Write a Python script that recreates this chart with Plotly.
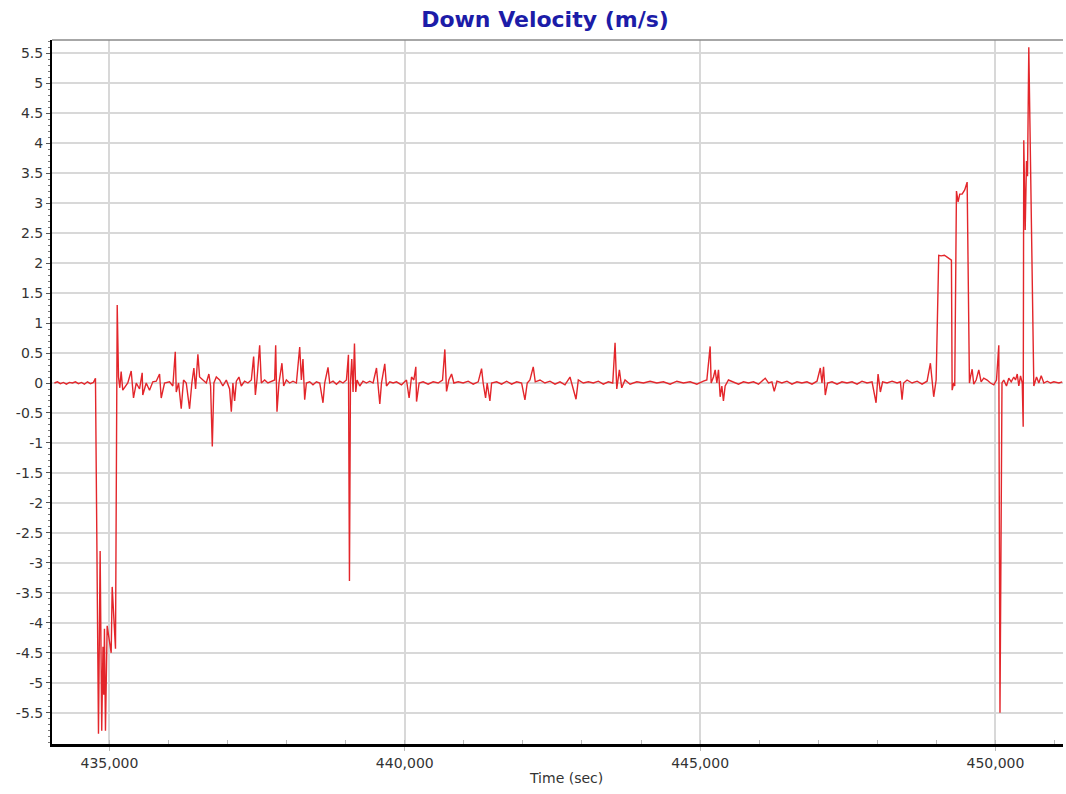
import plotly.graph_objects as go

# ---- data ----
time_s = [
    434068, 434119, 434169, 434220, 434271, 434322, 434373, 434424, 434475, 434525,
    434576, 434627, 434678, 434729, 434763,
    434814, 434842, 434869, 434890, 434903, 434915, 434932, 434961, 434992, 435029,
    435046, 435073, 435102, 435131,
    435153, 435175, 435198, 435225, 435271, 435310, 435368, 435407, 435453, 435509,
    435554, 435564, 435622, 435678, 435734, 435792, 435848, 435876, 435932, 436017,
    436073, 436114, 436131, 436170, 436215, 436254, 436300, 436356, 436395, 436429,
    436458, 436497, 436526, 436581, 436639, 436683, 436712, 436741, 436768, 436809,
    436865, 436920, 436978, 437034, 437063, 437090, 437119, 437148, 437192, 437232,
    437288, 437344, 437402, 437441, 437470, 437497,
    437543, 437571, 437627, 437683, 437741, 437797, 437814, 437836, 437870, 437920,
    437949, 437995, 438051, 438107, 438165, 438221, 438249, 438276, 438305, 438334,
    438390, 438446, 438504, 438560, 438615, 438644, 438700, 438729, 438785, 438843,
    438899, 438954, 439012, 439046, 439063, 439080, 439102, 439124, 439148, 439170,
    439192, 439238, 439293, 439351, 439407, 439463, 439521, 439548, 439577, 439605,
    439661, 439690, 439746, 439802, 439860,
    439944, 440029, 440073, 440114, 440153, 440187, 440199, 440243, 440310, 440395,
    440480, 440565, 440639, 440678, 440707, 440746, 440792, 440831, 440904, 440988,
    441073, 441158, 441243, 441300, 441327, 441368, 441395, 441441, 441470, 441555,
    441639, 441724, 441809, 441894, 441978, 442034, 442073, 442119, 442175, 442209,
    442289, 442373, 442458, 442543, 442628, 442712, 442797, 442843, 442899, 442938,
    443022, 443107, 443192, 443277, 443361, 443446, 443521, 443560, 443589, 443633,
    443673, 443729, 443814, 443928, 444039, 444153, 444267, 444378, 444492, 444606,
    444717, 444831, 444945, 445056, 445114,
    445170, 445187, 445226, 445255, 445284, 445311, 445340, 445368, 445395, 445424,
    445480, 445565, 445650, 445734, 445819, 445904, 445989, 446102, 446158, 446216,
    446255, 446301, 446385, 446470, 446555, 446640, 446724, 446809, 446894, 446979,
    447035, 447063, 447090, 447119, 447158, 447233, 447318, 447402, 447487, 447572,
    447657, 447741, 447826, 447911, 447979, 448013, 448052, 448090, 448165, 448250,
    448335, 448391, 448419, 448446, 448504, 448589, 448674, 448758, 448843, 448899,
    448928, 448955, 448996,
    449040, 449080, 449136, 449182, 449226, 449255, 449267, 449294, 449311, 449340,
    449368, 449396, 449436, 449480, 449521, 449560, 449577, 449606, 449633, 449674,
    449718, 449758, 449802, 449860, 449916, 449972, 450018, 450057, 450077, 450111,
    450141, 450187, 450226, 450267, 450311, 450340, 450369, 450396, 450425, 450454,
    450470, 450480, 450504, 450526, 450543, 450565, 450650, 450696, 450735, 450775,
    450820, 450877, 450933, 450989, 451074, 451131,
]

down_velocity = [
    0.0, 0.02, -0.01, 0.01, -0.02, 0.01, 0.0, 0.02, -0.01, 0.01,
    -0.02, 0.02, -0.01, 0.01, 0.08,
    -5.85, -2.8, -5.8, -4.4, -5.2, -4.1, -5.8, -4.05, -4.3, -4.5,
    -3.4, -3.95, -4.43, 1.3,
    0.1, -0.08, 0.19, -0.12, -0.05, 0.0, 0.2, -0.25, 0.0, -0.1,
    0.17, -0.2, 0.0, -0.12, 0.02, 0.03, 0.15, -0.25, 0.0, 0.02,
    -0.05, 0.52, -0.15, 0.0, -0.43, 0.05, 0.0, -0.43, 0.0, 0.25,
    -0.1, 0.48, 0.1, 0.05, 0.0, 0.15, -0.05, -1.06, 0.0, 0.1,
    0.05, -0.05, 0.05, -0.1, -0.48, 0.0, -0.3, 0.03, 0.1, -0.05,
    0.03, 0.0, 0.05, 0.44, -0.2, 0.05,
    0.63, 0.0, 0.05, 0.0, 0.03, 0.05, 0.63, -0.48, 0.0, 0.33,
    -0.05, 0.05, 0.0, 0.03, 0.0, 0.6, 0.05, 0.4, -0.28, 0.0,
    0.02, -0.03, 0.02, 0.0, -0.33, 0.0, 0.26, 0.0, 0.03, -0.02,
    0.03, 0.0, 0.05, 0.47, -3.3, 0.0, 0.4, -0.15, 0.66, -0.15,
    0.05, -0.05, 0.03, 0.0, 0.03, 0.0, 0.25, 0.0, -0.35, 0.0,
    0.32, -0.05, 0.02, 0.0, 0.02,
    -0.03, 0.05, -0.25, 0.1, 0.05, 0.27, -0.31, 0.0, 0.02, -0.02,
    0.02, 0.0, 0.05, 0.56, -0.14, 0.05, 0.15, 0.0, 0.02, 0.0,
    0.03, -0.02, 0.02, 0.24, 0.0, -0.25, 0.0, -0.3, 0.0, 0.02,
    -0.02, 0.03, -0.02, 0.02, 0.0, -0.28, 0.0, 0.05, 0.27, 0.02,
    0.05, 0.0, 0.03, -0.02, 0.02, -0.03, 0.1, -0.05, -0.27, 0.05,
    0.0, 0.02, 0.0, 0.03, -0.02, 0.02, 0.0, 0.67, -0.1, 0.22,
    -0.08, 0.05, -0.02, 0.02, 0.0, 0.03, 0.0, 0.02, -0.02, 0.03,
    0.0, 0.02, -0.02, 0.03, 0.05,
    0.61, 0.0, 0.1, 0.22, 0.0, 0.22, -0.23, -0.05, -0.3, -0.05,
    0.05, 0.02, -0.02, 0.02, 0.0, 0.02, -0.02, 0.08, 0.0, 0.02,
    -0.14, 0.03, 0.0, 0.03, -0.02, 0.02, 0.0, 0.02, -0.02, 0.03,
    0.25, 0.0, 0.27, -0.2, 0.0, 0.02, -0.02, 0.02, 0.0, 0.02,
    -0.02, 0.03, 0.0, 0.02, -0.33, 0.15, -0.15, 0.02, 0.0, 0.03,
    0.0, 0.02, -0.28, 0.0, 0.05, 0.0, 0.03, -0.02, 0.03, 0.33,
    0.0, -0.23, 0.05,
    2.13, 2.12, 2.13, 2.1, 2.07, 2.05, -0.12, 0.0, -0.05, 3.2,
    3.02, 3.15, 3.15, 3.22, 3.35, 0.0, 0.1, 0.23, -0.02, 0.05,
    0.22, 0.02, 0.08, 0.05, 0.0, -0.03, 0.05, 0.63, -5.5, 0.0,
    0.05, -0.05, 0.08, 0.02, 0.1, 0.05, 0.15, -0.05, 0.12, 0.0,
    -0.73, 4.05, 2.55, 3.7, 3.45, 5.6, -0.05, 0.1, 0.0, 0.12,
    0.0, 0.03, 0.0, 0.02, 0.0, 0.02,
]

x_tick_vals = [435000, 440000, 445000, 450000]
x_tick_text = ["435,000", "440,000", "445,000", "450,000"]
y_tick_vals = [-5.5, -5, -4.5, -4, -3.5, -3, -2.5, -2, -1.5, -1, -0.5, 0,
               0.5, 1, 1.5, 2, 2.5, 3, 3.5, 4, 4.5, 5, 5.5]
y_tick_text = ["-5.5", "-5", "-4.5", "-4", "-3.5", "-3", "-2.5", "-2", "-1.5", "-1", "-0.5", "0",
               "0.5", "1", "1.5", "2", "2.5", "3", "3.5", "4", "4.5", "5", "5.5"]

chart_title = "Down Velocity (m/s)"
x_title = "Time (sec)"

FONT = "DejaVu Sans, Verdana, sans-serif"

fig = go.Figure()
fig.add_trace(go.Scatter(
    x=time_s, y=down_velocity, mode="lines",
    line=dict(color="#e3262b", width=1.4),
    showlegend=False, hoverinfo="x+y",
))

fig.update_layout(
    width=1066, height=794,
    paper_bgcolor="white", plot_bgcolor="white",
    margin=dict(l=52, r=3, t=40, b=50),
    font=dict(family=FONT, size=14, color="#333333"),
    title=dict(text="<b>" + chart_title + "</b>",
               font=dict(family=FONT, size=22, color="#1c1ca8"),
               x=545 / 1066, xanchor="center", xref="container",
               y=1 - 19 / 794, yanchor="middle", yref="container"),
    xaxis=dict(
        range=[434027, 451144],
        tickvals=x_tick_vals, ticktext=x_tick_text,
        showgrid=True, gridcolor="#d8d8d8", gridwidth=1.5,
        zeroline=False,
        showline=True, linecolor="black", linewidth=2.5,
        ticks="outside", ticklen=4, tickcolor="#bbbbbb", tickwidth=1,
        minor=dict(dtick=1000, tick0=435000, ticks="inside", ticklen=4,
                   tickcolor="#bbbbbb", showgrid=False),
        tickfont=dict(family=FONT, size=14, color="#333333"),
    ),
    yaxis=dict(
        range=[-6.02, 5.72],
        tickvals=y_tick_vals, ticktext=y_tick_text,
        showgrid=True, gridcolor="#d8d8d8", gridwidth=1.5,
        zeroline=False,
        showline=True, linecolor="black", linewidth=2,
        ticks="outside", ticklen=4, tickcolor="#555555", tickwidth=1,
        minor=dict(dtick=0.1, ticks="outside", ticklen=2,
                   tickcolor="#777777", showgrid=False),
        tickfont=dict(family=FONT, size=14, color="#333333"),
    ),
    annotations=[dict(
        text=x_title, xref="paper", yref="paper",
        x=(566 - 52) / (1066 - 52 - 3), y=-34 / 704, xanchor="center", yanchor="middle",
        showarrow=False, font=dict(family=FONT, size=14, color="#333333"),
    )],
    shapes=[dict(type="line", xref="paper", yref="paper", x0=0, x1=1, y0=1, y1=1,
                 line=dict(color="#8a8a8a", width=1.5))],
)

fig.write_html(
    "out.html",
    config={"displayModeBar": False},
    post_script="document.body.style.margin='0';document.body.style.overflow='hidden';",
)
